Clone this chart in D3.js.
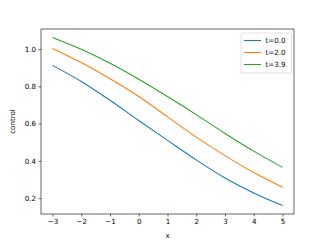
<!DOCTYPE html>
<html>
<head>
<meta charset="utf-8">
<script src="https://cdn.jsdelivr.net/npm/d3@7"></script>
<style>
  body { margin: 0; background: #fff; }
  text { font-family: "DejaVu Sans", sans-serif; }
</style>
</head>
<body>
<div id="chart"></div>
<script>
// data
const xs = [-3, -2, -1, 0, 1, 2, 3, 4, 5];
const t00 = [0.912, 0.826, 0.725, 0.616, 0.510, 0.405, 0.308, 0.228, 0.160];
const t20 = [1.003, 0.927, 0.840, 0.745, 0.636, 0.527, 0.428, 0.337, 0.259];
const t39 = [1.062, 0.998, 0.923, 0.838, 0.745, 0.648, 0.547, 0.452, 0.365];
const seriesNames = ["t=0.0", "t=2.0", "t=3.9"];
const colors = ["#1f77b4", "#ff7f0e", "#2ca02c"];
const xTicks = [-3, -2, -1, 0, 1, 2, 3, 4, 5];
const yTicks = [0.2, 0.4, 0.6, 0.8, 1.0];

const W = 327, H = 245;
const margin = {top: 29, right: 33, bottom: 31, left: 41};
const width = W - margin.left - margin.right,
      height = H - margin.top - margin.bottom;

const svg = d3.select("#chart")
  .append("svg")
    .attr("width", W)
    .attr("height", H)
  .append("g")
    .attr("transform", `translate(${margin.left},${margin.top})`);

const series = [t00, t20, t39].map((vals, i) => ({
  name: seriesNames[i],
  color: colors[i],
  points: xs.map((x, j) => [x, vals[j]])
}));

// x scale with matplotlib-style 5% margins
const xExt = d3.extent(xs);
const xPad = (xExt[1] - xExt[0]) * 0.05;
const x = d3.scaleLinear()
  .domain([xExt[0] - xPad, xExt[1] + xPad])
  .range([0, width]);

const allY = [...t00, ...t20, ...t39];
const yExt = d3.extent(allY);
const yPad = (yExt[1] - yExt[0]) * 0.05;
const y = d3.scaleLinear()
  .domain([yExt[0] - yPad, yExt[1] + yPad])
  .range([height, 0]);

const fmtX = d => d < 0 ? "\u2212" + Math.abs(d) : String(d);

// axes
const gx = svg.append("g")
  .attr("transform", `translate(0,${height})`)
  .call(d3.axisBottom(x).tickValues(xTicks).tickFormat(fmtX).tickSize(2.5).tickPadding(2.5));
const gy = svg.append("g")
  .call(d3.axisLeft(y).tickValues(yTicks).tickFormat(d3.format(".1f")).tickSize(2.5).tickPadding(2.5));

[gx, gy].forEach(g => {
  g.select(".domain").remove();
  g.selectAll(".tick line").attr("stroke", "#000").attr("stroke-width", 0.6);
  g.selectAll(".tick text").attr("font-size", 7.1).attr("fill", "#000")
    .style("font-family", "DejaVu Sans, sans-serif");
});

// lines
const line = d3.line()
  .x(d => x(d[0]))
  .y(d => y(d[1]))
  .curve(d3.curveCatmullRom);

svg.append("g")
  .selectAll("path")
  .data(series)
  .join("path")
    .attr("fill", "none")
    .attr("stroke", d => d.color)
    .attr("stroke-width", 1.1)
    .attr("d", d => line(d.points));

// frame
svg.append("rect")
  .attr("width", width)
  .attr("height", height)
  .attr("fill", "none")
  .attr("stroke", "#000")
  .attr("stroke-width", 0.6);

// axis labels
svg.append("text")
  .attr("x", width / 2)
  .attr("y", height + 24)
  .attr("text-anchor", "middle")
  .attr("font-size", 7.1)
  .text("x");

svg.append("text")
  .attr("transform", `translate(${-26},${height / 2}) rotate(-90)`)
  .attr("text-anchor", "middle")
  .attr("font-size", 7.1)
  .text("control");

// legend
const legend = svg.append("g")
  .attr("transform", `translate(${width - 53},4)`);
legend.append("rect")
  .attr("width", 50.5)
  .attr("height", 40)
  .attr("rx", 1.5)
  .attr("fill", "#fff")
  .attr("fill-opacity", 0.8)
  .attr("stroke", "#ccc")
  .attr("stroke-width", 0.6);
const items = legend.selectAll("g.item")
  .data(series)
  .join("g")
    .attr("class", "item")
    .attr("transform", (d, i) => `translate(0,${7.5 + i * 12})`);
items.append("line")
  .attr("x1", 3)
  .attr("x2", 20)
  .attr("stroke", d => d.color)
  .attr("stroke-width", 1.1);
items.append("text")
  .attr("x", 24.5)
  .attr("dy", "0.35em")
  .attr("font-size", 7.1)
  .text(d => d.name);
</script>
</body>
</html>
